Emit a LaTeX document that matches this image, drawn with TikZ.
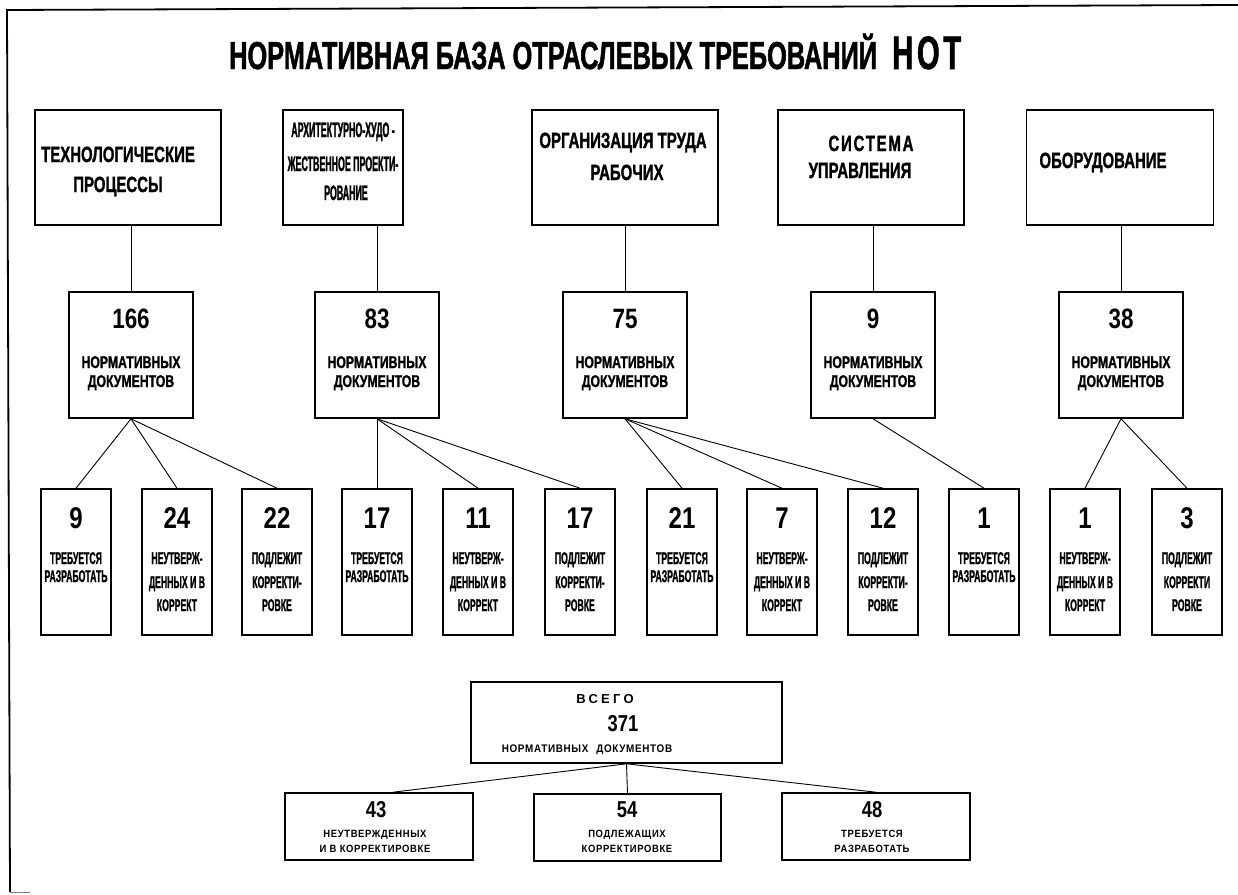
\documentclass[tikz,border=0pt]{standalone}
\usepackage{fontspec}
\setmainfont{Liberation Sans}
\newfontfamily\fTitle{Liberation Sans}[FakeStretch=0.65,FakeBold=1.2]
\newfontfamily\fHot{Liberation Sans}[FakeStretch=0.62,LetterSpace=8,FakeBold=1.2]
\newfontfamily\fTop{Liberation Sans}[FakeStretch=0.68,FakeBold=1.2]
\newfontfamily\fTopS{Liberation Sans}[FakeStretch=0.68,LetterSpace=8,FakeBold=1.2]
\newfontfamily\fTopN{Liberation Sans}[FakeStretch=0.42,FakeBold=1.2]
\newfontfamily\fNum{Liberation Sans}[FakeStretch=0.8]
\newfontfamily\fMid{Liberation Sans}[FakeStretch=0.72,FakeBold=1]
\newfontfamily\fLow{Liberation Sans}[FakeStretch=0.51,FakeBold=1]
\newfontfamily\fBot{Liberation Sans}[FakeStretch=0.9,LetterSpace=6]
\newfontfamily\fSpaced{Liberation Sans}[LetterSpace=25]
\tikzset{
  frame/.style={line width=1.8pt},
  bx/.style={draw, line width=1.6pt, inner sep=0pt},
  conn/.style={line width=0.9pt},
  lbl/.style={inner sep=0pt, anchor=base},
  ltop/.style={lbl, font=\fTop\bfseries\fontsize{22}{22}\selectfont},
  ltops/.style={lbl, font=\fTopS\bfseries\fontsize{22}{22}\selectfont},
  ltopn/.style={lbl, font=\fTopN\bfseries\fontsize{21}{21}\selectfont},
  mnum/.style={lbl, font=\fNum\bfseries\fontsize{28}{28}\selectfont},
  mtxt/.style={lbl, font=\fMid\bfseries\fontsize{17}{17}\selectfont},
  lnum/.style={lbl, font=\fNum\bfseries\fontsize{30}{30}\selectfont},
  llow/.style={lbl, font=\fLow\bfseries\fontsize{17}{17}\selectfont},
  bnum/.style={lbl, font=\fNum\bfseries\fontsize{23}{23}\selectfont},
  btxt/.style={lbl, font=\fBot\bfseries\fontsize{10.5}{10.5}\selectfont},
}
\newcommand\midbox[3]{%
  \node[bx, minimum width=124, minimum height=126] (#1) at (#2,-355) {};
  \node[mnum] (#1n) at (#2,-328) {#3};
  \node[mtxt] (#1a) at (#2,-368) {НОРМАТИВНЫХ};
  \node[mtxt] (#1b) at (#2,-387) {ДОКУМЕНТОВ};}
\newcommand\lowbox[4]{%
  \node[bx, minimum width=70, minimum height=146] (#1) at (#2,-562) {};
  \node[lnum] (#1n) at (#2,-528) {#3};
  \ifcase#4\relax
    \node[llow] (#1a) at (#2,-564) {ТРЕБУЕТСЯ};
    \node[llow] (#1b) at (#2,-582) {РАЗРАБОТАТЬ};
  \or
    \node[llow] (#1a) at (#2,-564) {НЕУТВЕРЖ-};
    \node[llow] (#1b) at (#2,-588) {ДЕННЫХ И В};
    \node[llow] (#1c) at (#2,-611) {КОРРЕКТ};
  \or
    \node[llow] (#1a) at (#2,-564) {ПОДЛЕЖИТ};
    \node[llow] (#1b) at (#2,-588) {КОРРЕКТИ-};
    \node[llow] (#1c) at (#2,-611) {РОВКЕ};
  \or
    \node[llow] (#1a) at (#2,-564) {ПОДЛЕЖИТ};
    \node[llow] (#1b) at (#2,-588) {КОРРЕКТИ};
    \node[llow] (#1c) at (#2,-611) {РОВКЕ};
  \fi}
\begin{document}
\begin{tikzpicture}[x=1pt,y=1pt]
\useasboundingbox (0,0) rectangle (1238,-894);
% frame
\coordinate (f1) at (7,-10);
\coordinate (f2) at (1238,-5);
\coordinate (f3) at (10,-892);
\coordinate (f4) at (30,-892);
\draw[frame] (f2) -- (f1) -- (f3);
\draw[line width=0.6pt, gray] (f3) -- (f4);
% title
\node[lbl, anchor=base west, font=\fTitle\bfseries\fontsize{39}{39}\selectfont] (title) at (229,-69) {НОРМАТИВНАЯ БАЗА ОТРАСЛЕВЫХ ТРЕБОВАНИЙ};
\node[lbl, anchor=base west, font=\fHot\bfseries\fontsize{47}{47}\selectfont] (hot) at (892,-69) {НОТ};
% top boxes
\node[bx, minimum width=186, minimum height=115] (b1) at (128,-167.5) {};
\node[bx, minimum width=120, minimum height=115] (b2) at (343,-167.5) {};
\node[bx, minimum width=186, minimum height=115] (b3) at (625,-167.5) {};
\node[bx, minimum width=186, minimum height=115] (b4) at (871,-167.5) {};
\node[bx, minimum width=187, minimum height=115] (b5) at (1120,-167.5) {};
\node[ltop] (b1a) at (118,-162) {ТЕХНОЛОГИЧЕСКИЕ};
\node[ltop] (b1b) at (118,-192) {ПРОЦЕССЫ};
\node[ltopn] (b2a) at (343,-137) {АРХИТЕКТУРНО-ХУДО -};
\node[ltopn] (b2b) at (343,-171) {ЖЕСТВЕННОЕ ПРОЕКТИ-};
\node[ltopn] (b2c) at (346,-200) {РОВАНИЕ};
\node[ltop] (b3a) at (623,-148) {ОРГАНИЗАЦИЯ ТРУДА};
\node[ltop] (b3b) at (627,-180) {РАБОЧИХ};
\node[ltops] (b4a) at (871,-151) {СИСТЕМА};
\node[ltop] (b4b) at (860,-178) {УПРАВЛЕНИЯ};
\node[ltop] (b5a) at (1103,-168) {ОБОРУДОВАНИЕ};
% middle boxes
\midbox{m1}{131}{166}
\midbox{m2}{377}{83}
\midbox{m3}{625}{75}
\midbox{m4}{873}{9}
\midbox{m5}{1121}{38}
\foreach \i in {1,...,5} {\draw[conn] (m\i.north) -- (m\i.north |- b\i.south);}
% low boxes
\lowbox{l1}{76}{9}{0}
\lowbox{l2}{177}{24}{1}
\lowbox{l3}{277}{22}{2}
\lowbox{l4}{377}{17}{0}
\lowbox{l5}{478}{11}{1}
\lowbox{l6}{580}{17}{2}
\lowbox{l7}{682}{21}{0}
\lowbox{l8}{782}{7}{1}
\lowbox{l9}{883}{12}{2}
\lowbox{l10}{984}{1}{0}
\lowbox{l11}{1085}{1}{1}
\lowbox{l12}{1187}{3}{3}
\draw[conn] (m1.south) -- (l1.north);
\draw[conn] (m1.south) -- (l2.north);
\draw[conn] (m1.south) -- (l3.north);
\draw[conn] (m2.south) -- (l4.north);
\draw[conn] (m2.south) -- (l5.north);
\draw[conn] (m2.south) -- (l6.north);
\draw[conn] (m3.south) -- (l7.north);
\draw[conn] (m3.south) -- (l8.north);
\draw[conn] (m3.south) -- (l9.north);
\draw[conn] (m4.south) -- (l10.north);
\draw[conn] (m5.south) -- (l11.north);
\draw[conn] (m5.south) -- (l12.north);
% total
\node[bx, minimum width=311, minimum height=81] (tot) at (626.5,-722.5) {};
\node[lbl, font=\fSpaced\bfseries\fontsize{13}{13}\selectfont] (totA) at (605,-703) {ВСЕГО};
\node[bnum] (totN) at (623,-731) {371};
\node[lbl, font=\fBot\bfseries\fontsize{11}{11}\selectfont] (totB) at (587,-752) {НОРМАТИВНЫХ\hspace{8pt}ДОКУМЕНТОВ};
\node[bx, minimum width=188, minimum height=67] (s43) at (379,-826.5) {};
\node[bx, minimum width=187, minimum height=67] (s54) at (627.5,-827.5) {};
\node[bx, minimum width=188, minimum height=67] (s48) at (876,-826.5) {};
\node[bnum] (s43n) at (376,-817) {43};
\node[btxt] (s43a) at (375,-837) {НЕУТВЕРЖДЕННЫХ};
\node[btxt] (s43b) at (375,-852) {И В КОРРЕКТИРОВКЕ};
\node[bnum] (s54n) at (627,-817) {54};
\node[btxt] (s54a) at (627,-837) {ПОДЛЕЖАЩИХ};
\node[btxt] (s54b) at (627,-852) {КОРРЕКТИРОВКЕ};
\node[bnum] (s48n) at (872,-817) {48};
\node[btxt] (s48a) at (872,-837) {ТРЕБУЕТСЯ};
\node[btxt] (s48b) at (872,-852) {РАЗРАБОТАТЬ};
\draw[conn] (tot.south) -- ([xshift=14pt]s43.north);
\draw[conn] (tot.south) -- (s54.north);
\draw[conn] (tot.south) -- (s48.north);
\end{tikzpicture}
\end{document}
